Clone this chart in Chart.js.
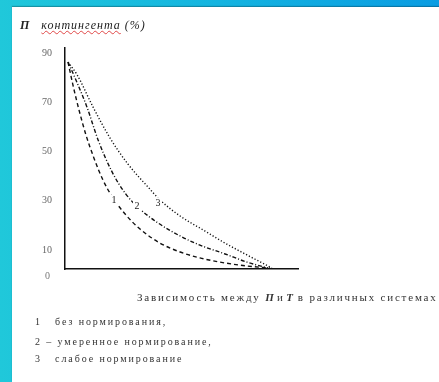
<!DOCTYPE html>
<html>
<head>
<meta charset="utf-8">
<script src="https://cdn.jsdelivr.net/npm/chart.js@4"></script>
<style>
  html, body { margin:0; padding:0; width:439px; height:382px; overflow:hidden; }
  body { background: linear-gradient(90deg, #20c8da 0%, #14b4e0 50%, #0a9ce2 100%); position:relative; font-family:"Liberation Serif", "DejaVu Serif", serif; }
  #paper { position:absolute; left:12px; top:7px; right:0; bottom:0; background:#fff; box-shadow: 0 -1px 1px rgba(0,0,0,0.25); }
  #c { position:absolute; left:0; top:0; }
  .t { position:absolute; white-space:nowrap; color:#222; }
  #ytitle { left:20px; top:18px; font-size:12px; font-style:italic; letter-spacing:1px; }
  #ytitle b { font-size:12px; margin-right:12px; letter-spacing:0; }
  #ytitle u { text-decoration: underline wavy #e04848; text-decoration-thickness:1px; }
  #caption { left:137px; top:291px; font-size:11px; color:#333; letter-spacing:1.8px; }
  #caption span { letter-spacing:0.3px; }
  .leg { left:35px; font-size:10px; color:#333; letter-spacing:1.9px; }
</style>
</head>
<body>
<div id="paper"></div>
<canvas id="c" width="439" height="382"></canvas>
<div class="t" id="ytitle"><b>П</b><u>контингента</u> (%)</div>
<div class="t" id="caption">Зависимость между <span><i><b>П</b></i> и <i><b>Т</b></i></span> в различных системах</div>
<div class="t leg" style="top:316px">1 &nbsp;&nbsp;без нормирования,</div>
<div class="t leg" style="top:336px">2 – умеренное нормирование,</div>
<div class="t leg" style="top:353px">3 &nbsp;&nbsp;слабое нормирование</div>
<script>
// Data: x in arbitrary T units (0..100 axis span), y in %
const yTicks = [10, 30, 50, 70, 90];
const curve1X = [1.3, 3.4, 6.0, 9.0, 12.4, 16.3, 20.6, 25.8, 32.2, 40.8, 49.4, 57.9, 66.5, 78.1, 88.0];
const curve1Y = [86.3, 77.0, 66.9, 56.7, 47.4, 38.4, 31.1, 24.6, 18.5, 12.8, 9.2, 6.8, 5.1, 3.5, 2.7];
const curve2X = [1.3, 4.7, 9.4, 14.2, 20.2, 25.8, 32.2, 39.9, 49.4, 57.9, 68.7, 78.1, 87.1];
const curve2Y = [86.3, 79.0, 68.1, 54.7, 41.7, 33.1, 26.6, 21.0, 15.7, 12.0, 8.4, 5.1, 2.7];
const curve3X = [1.3, 5.2, 12.0, 19.3, 27.0, 35.6, 40.8, 49.4, 60.1, 68.7, 78.1, 88.8];
const curve3Y = [86.3, 81.1, 68.1, 55.5, 44.9, 35.6, 30.3, 23.8, 17.7, 12.8, 8.0, 2.7];
const curveLabels = ["1", "2", "3"];
const labelPoints = [[21.0, 30.0], [30.9, 27.9], [39.9, 29.0]];

const zip = (xs, ys) => xs.map((x, i) => ({x, y: ys[i]}));

const labelPlugin = {
  id: 'curveLabels',
  afterDatasetsDraw(chart) {
    const {ctx, scales: {x, y}} = chart;
    ctx.save();
    ctx.font = '10px "Liberation Serif"';
    ctx.textAlign = 'center';
    ctx.textBaseline = 'middle';
    labelPoints.forEach((p, i) => {
      const px = x.getPixelForValue(p[0]), py = y.getPixelForValue(p[1]);
      ctx.fillStyle = '#fff';
      ctx.fillRect(px - 4, py - 6, 8, 12);
      ctx.fillStyle = '#222';
      ctx.fillText(curveLabels[i], px, py);
    });
    // the "0" label below the axis corner
    ctx.fillStyle = '#777';
    ctx.textAlign = 'right';
    ctx.fillText('0', 50, y.getPixelForValue(0) + 2);
    ctx.restore();
  }
};

const common = { borderColor: '#111', borderWidth: 1.4, pointRadius: 0, fill: false, cubicInterpolationMode: 'monotone' };

new Chart(document.getElementById('c'), {
  type: 'line',
  data: {
    datasets: [
      Object.assign({ label: '1', data: zip(curve1X, curve1Y), borderDash: [4, 3] }, common),
      Object.assign({ label: '2', data: zip(curve2X, curve2Y), borderDash: [4, 2, 1, 2] }, common),
      Object.assign({ label: '3', data: zip(curve3X, curve3Y), borderDash: [1.2, 2] }, common)
    ]
  },
  options: {
    responsive: false,
    animation: false,
    layout: { padding: { left: 0, top: 48, right: 141, bottom: 113 } },
    plugins: { legend: { display: false }, tooltip: { enabled: false } },
    scales: {
      x: {
        type: 'linear', min: 0, max: 100,
        grid: { display: false, drawTicks: false },
        border: { display: true, color: '#111', width: 1.5 },
        ticks: { display: false },
        afterFit(s) { s.height = 0; }
      },
      y: {
        type: 'linear', min: 2.3, max: 92,
        grid: { display: false, drawTicks: false },
        border: { display: true, color: '#111', width: 1.5 },
        afterBuildTicks(s) { s.ticks = yTicks.map(v => ({value: v})); },
        ticks: { padding: 13, color: '#666', font: { family: 'Liberation Serif', size: 10 } },
        afterFit(s) { s.width = 65; }
      }
    }
  },
  plugins: [labelPlugin]
});
</script>
</body>
</html>
